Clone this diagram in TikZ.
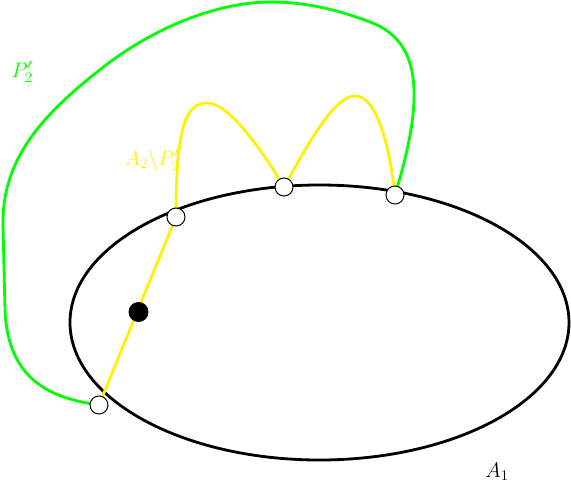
\documentclass[tikz,border=0pt]{standalone}
\usepackage{fix-cm}
\begin{document}
\begin{tikzpicture}[x=1pt,y=-1pt,
  vtx/.style={circle,draw=black,fill=white,line width=1pt,minimum size=18pt,inner sep=0pt},
  blackdot/.style={circle,fill=black,minimum size=20pt,inner sep=0pt},
  gpath/.style={draw=green,line width=2.8pt},
  ypath/.style={draw=yellow,line width=2.8pt},
  lbl/.style={font=\fontsize{21}{25}\selectfont}]
\useasboundingbox (0,0) rectangle (571,490);
\draw[line width=2.8pt] (319.5,322.5) ellipse [x radius=249.5pt, y radius=137.5pt];
\coordinate (n1) at (99,405);
\coordinate (n2) at (176,217);
\coordinate (n3) at (284,187);
\coordinate (n4) at (395,195);
\coordinate (dt) at (138.5,312);
\draw[gpath] (n1) .. controls (50,398) and (8,380) .. (5,310) -- (3,225)
  .. controls (2,160) and (40,115) .. (110,62)
  .. controls (160,25) and (220,2) .. (271,2)
  .. controls (310,2) and (345,12) .. (375,24)
  .. controls (422,45) and (424,100) .. (n4);
\draw[ypath] (n1) -- (n2);
\draw[ypath] (n2) .. controls (176,130) and (185,103) .. (207,103)
  .. controls (230,103) and (265,155) .. (n3);
\draw[ypath] (n3) .. controls (310,140) and (335,96) .. (355,96)
  .. controls (378,96) and (390,150) .. (n4);
\node[vtx] (v1) at (n1) {};
\node[vtx] (v2) at (n2) {};
\node[vtx] (v3) at (n3) {};
\node[vtx] (v4) at (n4) {};
\node[blackdot] (bd) at (dt) {};
\node[lbl,text=green] (lp) at (22,72) {$P_2'$};
\node[lbl,text=yellow] (la) at (152,160) {$A_2\backslash P_2'$};
\node[lbl] (l1) at (497,472) {$A_1$};
\end{tikzpicture}
\end{document}
